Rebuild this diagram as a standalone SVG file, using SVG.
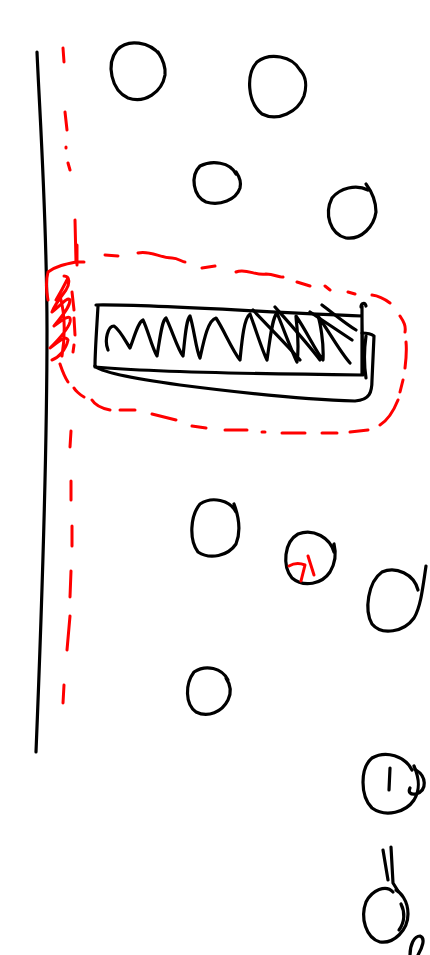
<svg xmlns="http://www.w3.org/2000/svg" width="430" height="955" viewBox="0 0 430 955">
<style>
.k{fill:none;stroke:#000;stroke-width:3.2;stroke-linecap:round;stroke-linejoin:round}
.r{fill:none;stroke:#f00;stroke-width:3;stroke-linecap:round;stroke-linejoin:round}
</style>
<rect width="430" height="955" fill="#fff"/>
<g id="wall">
<path class="k" d="M37,52 C40,120 47,220 47,330 C47,450 43,580 36,752"/>
</g>
<g id="boundary">
<path class="r" d="M63,48 L64,62 M65,112 L67,130 M66,147 L66,148 M68,163 L70,170 M75,220 L76,262"/>
<path class="r" d="M72,292 L74,310 M74,318 L75,335 M74,345 L73,352"/>
<path class="r" d="M71,431 L70,447 M71,481 L71,500 M72,526 L72,546 M71,571 L70,597 M70,616 L67,650 M64,685 L63,703"/>
</g>
<g id="circles">
<path class="k" d="M160,55 C150,42 128,38 117,50 C106,64 111,90 128,98 C145,104 162,92 165,75 C166,66 162,58 158,52"/>
<path class="k" d="M300,70 C292,56 270,52 257,62 C246,74 247,102 262,114 C278,122 298,112 304,96 C307,86 306,76 300,70"/>
<path class="k" d="M236,174 C230,162 212,160 200,166 C190,176 193,196 206,202 C220,206 236,200 240,188 C242,180 238,175 236,172"/>
<path class="k" d="M368,190 C356,184 340,188 332,198 C324,214 330,234 346,238 C362,240 374,226 376,212 C376,200 372,192 366,184"/>
<path class="k" d="M236,512 C230,500 212,496 200,504 C190,516 189,540 198,552 C210,560 228,556 236,544 C240,534 240,520 234,504"/>
<path class="k" d="M334,552 C330,538 314,528 298,534 C284,542 282,566 292,578 C304,588 322,584 330,572 C336,562 336,552 334,544"/>
<path class="k" d="M418,590 C414,574 396,566 382,572 C368,582 364,610 372,624 C382,636 404,632 414,618 C420,608 422,594 426,566"/>
<path class="k" d="M228,680 C222,668 206,664 194,672 C185,684 185,704 196,712 C208,718 222,712 228,700 C232,692 230,684 226,678"/>
<path class="k" d="M412,770 C405,756 386,750 372,758 C360,768 360,796 372,808 C386,818 406,812 414,800 C420,790 420,780 414,766"/>
<path class="k" d="M390,768 L389,790 M416,770 C426,776 428,790 416,794 C410,795 408,792 410,788"/>
<path class="k" d="M393,892 C386,884 372,890 366,902 C360,918 366,938 380,942 C394,944 408,930 408,914 C408,900 400,892 396,890"/>
<path class="k" d="M401,904 C405,912 405,922 399,930"/>
<path class="k" d="M383,850 L388,880 M391,847 L393,883 L398,891"/>
<path class="k" d="M410,955 C410,945 414,936 420,936 C426,938 422,948 418,955"/>
</g>
<g id="red-marks">
<path class="r" d="M289,566 C294,563 300,563 305,565 L301,581 M308,556 L314,575"/>
</g>
<g id="rect">
<path class="k" d="M96,305 C150,304 260,312 362,316 M98,306 C97,325 95,350 95,367 C150,372 260,374 362,375 L362,306 M362,316 C362,336 363,356 363,375"/>
<path class="k" d="M95,366 C100,372 130,378 180,385 C250,394 320,400 355,401 C370,400 372,392 372,380 L374,336 C370,333 366,333 362,333"/>
<path class="k" d="M108,350 C104,340 108,326 114,326 C120,330 126,342 130,348 C134,338 138,322 143,320 C148,330 152,348 157,356 C160,338 162,320 166,318 C172,330 178,350 183,356 C185,338 186,320 190,316 C194,328 196,350 200,358 C204,340 208,320 216,318 C224,330 232,350 240,360 C242,340 244,318 250,314 C256,330 262,350 267,360 C270,340 272,318 277,313 C284,330 292,352 297,362 C300,342 296,322 296,316 C306,330 316,352 323,360 C324,342 320,322 318,316 C328,330 340,352 350,363"/>
<path class="k" d="M253,310 C268,326 290,348 300,360 M275,307 C290,324 308,344 320,360 M322,305 C334,314 346,324 356,330 M310,312 L352,340"/>
<path class="k" d="M361,307 C361,303 365,302 366,306 M366,336 C364,350 364,365 366,378"/>
</g>
<g id="red-outline">
<path class="r" d="M105,255 L118,256 M138,253 C150,250 160,258 172,258 C178,258 182,262 185,262 M202,268 L215,266 M236,272 C246,268 256,276 266,274 C274,274 280,278 283,277 M297,282 L310,286 M325,286 L330,290 M348,292 L355,294 M372,295 C380,296 386,300 390,303 M400,316 C404,322 406,326 405,332 M406,342 C407,352 406,360 405,368 M403,380 L400,392 M398,400 C394,410 388,420 380,425 M368,430 L350,432 M337,433 L322,433 M305,433 L282,433 M265,432 L262,432 M247,430 L225,430 M206,428 L192,426 M176,420 L152,414 M135,410 L120,410 M110,410 C100,408 95,405 92,400 M84,397 C80,395 75,390 74,388 M68,382 C64,376 62,370 60,364"/>
<path class="r" d="M48,300 C46,290 46,280 48,272 C56,266 66,264 76,262 L84,262 M77,245 L77,265 M64,276 C70,276 70,284 66,290 C60,298 54,306 52,312 C60,306 68,296 70,300 C70,308 60,318 54,326 C62,320 72,312 70,322 C68,330 58,340 50,348 C56,344 66,334 68,340 C66,350 58,358 52,360 M60,296 C64,310 66,330 62,356 M56,300 C62,290 66,282 68,278"/>
</g>
</svg>
